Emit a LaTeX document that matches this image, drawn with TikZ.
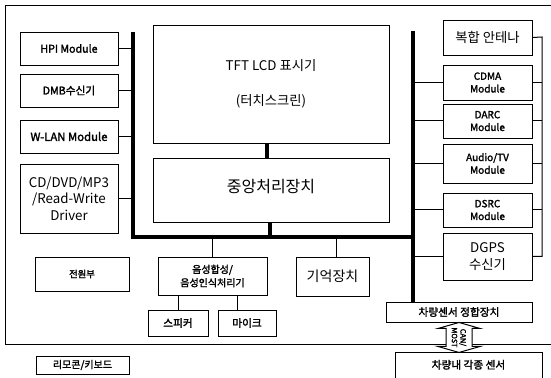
\documentclass[tikz,border=0pt]{standalone}
\usepackage{fontspec}
\setmainfont{Noto Sans CJK KR}[AutoFakeBold=2]
\usetikzlibrary{calc}
\tikzset{
  box/.style={draw=black, line width=0.7pt, fill=white, align=center, inner sep=1pt, font=\fontsize{7}{8.5}\selectfont\bfseries},
  big/.style={font=\fontsize{10}{12}\selectfont},
  bus/.style={line width=2.3pt},
  wire/.style={line width=0.75pt},
  frame/.style={line width=0.7pt}
}
\newcommand\rbox[7][]{\node[box,#1,minimum width={(#5-#3)*0.75pt},minimum height={(#6-#4)*0.75pt}] (#2) at ({(#3+#5)/2},{(#4+#6)/2}) {#7};}
\begin{document}
\begin{tikzpicture}[x=0.75pt,y=-0.75pt]
\clip (0,0) rectangle (551,378);
\fill[white] (0,0) rectangle (551,378);
% outer frame
\coordinate (fTL) at (5,5);
\coordinate (fTR) at (551,5);
\coordinate (fBL) at (5,344);
\coordinate (fBR) at (551,344);
\draw[frame] (fTR) -- (fTL) -- (fBL) -- (fBR);
% left column
\rbox[font=\fontsize{8}{10}\selectfont\bfseries]{hpi}{20}{32}{118}{65}{HPI Module}
\rbox[font=\fontsize{8}{10}\selectfont\bfseries]{dmb}{20}{74}{118}{107}{DMB수신기}
\rbox[font=\fontsize{8.5}{10}\selectfont\bfseries]{wlan}{20}{120}{118}{153}{W-LAN Module}
\rbox[big,font=\fontsize{10}{12.5}\selectfont]{cd}{20}{164}{118}{233}{CD/DVD/MP3\\/Read-Write\\Driver}
% center
\rbox[big,font=\fontsize{10}{12}\selectfont]{tft}{153}{25}{389}{143}{\raisebox{-6pt}{TFT LCD 표시기}\\[14pt]\raisebox{-6pt}{(터치스크린)}}
\rbox[big,font=\fontsize{12}{14}\selectfont]{cpu}{153}{158}{389}{222}{\raisebox{6pt}{중앙처리장치}}
% right column
\rbox[big,font=\fontsize{10}{12}\selectfont]{ant}{443}{20}{532}{55}{복합 안테나}
\rbox[font=\fontsize{7.5}{9.5}\selectfont\bfseries]{cdma}{443}{65}{532}{100}{CDMA\\Module}
\rbox[font=\fontsize{7.5}{9.5}\selectfont\bfseries]{darc}{443}{104}{532}{138}{DARC\\Module}
\rbox[font=\fontsize{7.5}{9.5}\selectfont\bfseries]{atv}{443}{144}{532}{183}{Audio/TV\\Module}
\rbox[font=\fontsize{7.5}{9.5}\selectfont\bfseries]{dsrc}{443}{193}{532}{227}{DSRC\\Module}
\rbox[big,font=\fontsize{10}{13}\selectfont]{dgps}{443}{233}{532}{280}{DGPS\\수신기}
% lower
\rbox[font=\fontsize{7.5}{10}\selectfont\bfseries]{voice}{158}{257}{267}{295}{음성합성/\\음성인식처리기}
\rbox[big,font=\fontsize{10.5}{12}\selectfont]{mem}{296}{257}{369}{296}{기억장치}
\rbox[font=\fontsize{8}{10}\selectfont\bfseries]{spk}{148}{310}{208}{336}{스피커}
\rbox[font=\fontsize{8}{10}\selectfont\bfseries]{mic}{218}{310}{276}{336}{마이크}
\rbox{pwr}{35}{257}{129}{291}{전원부}
\rbox[font=\fontsize{7.5}{9}\selectfont\bfseries]{remote}{36}{356}{129}{374}{리모콘/키보드}
\rbox[font=\fontsize{8}{10}\selectfont\bfseries]{sens}{386}{302}{532}{322}{차량센서 정합장치}
\rbox[font=\fontsize{8}{10}\selectfont\bfseries]{car}{395}{352}{542}{390}{\raisebox{10pt}{차량내 각종 센서}}
% buses
\coordinate (lbT) at (133,32);
\coordinate (lbB) at (133,237);
\coordinate (rbT) at (413,31);
\coordinate (rbM) at (413,237);
\draw[bus] (lbT) -- (lbB) -- (rbM);
\draw[bus] (rbT) -- (sens.north -| rbT);
\draw[bus] (cpu.south -| 270,0) -- (270,237);
\draw[bus] (tft.south -| 267,0) -- (cpu.north -| 267,0);
% left stubs
\draw[wire] (hpi.east) -- (hpi.east -| lbT);
\draw[wire] (dmb.east) -- (dmb.east -| lbT);
\draw[wire] (wlan.east) -- (wlan.east -| lbT);
\draw[wire] (cd.east) -- (cd.east -| lbT);
% right stubs
\draw[wire] (cdma.west) -- (cdma.west -| rbT);
\draw[wire] (darc.west) -- (darc.west -| rbT);
\draw[wire] (atv.west) -- (atv.west -| rbT);
\draw[wire] (dsrc.west) -- (dsrc.west -| rbT);
\draw[wire] (dgps.west) -- (dgps.west -| rbT);
% antenna line
\coordinate (antT) at (542,37);
\draw[wire] (ant.east) -- (antT) -- (dgps.east -| antT) -- (dgps.east);
\draw[wire] (cdma.east) -- (cdma.east -| antT);
\draw[wire] (darc.east) -- (darc.east -| antT);
\draw[wire] (atv.east) -- (atv.east -| antT);
\draw[wire] (dsrc.east) -- (dsrc.east -| antT);
% lower connections
\draw[wire] (voice.north -| 212,0) -- (212,237);
\draw[wire] (mem.north -| 336,0) -- (336,237);
\draw[wire] (spk.north -| 178,0) -- (voice.south -| 178,0);
\draw[wire] (mic.north -| 237,0) -- (voice.south -| 237,0);
% CAN/MOST double arrow
\draw[wire,fill=white] (sens.south) -- ++(21,6) -- ++(-8,0) -- ++(0,18) -- ++(8,0) -- ++(-21,6) -- ++(-21,-6) -- ++(8,0) -- ++(0,-18) -- ++(-8,0) -- cycle;
\node[rotate=-90, align=center, inner sep=0pt, font=\fontsize{5.5}{6.5}\selectfont\bfseries] (canlbl) at ($(sens.south)+(0,15)$) {CAN/\\MOST};
\end{tikzpicture}
\end{document}
